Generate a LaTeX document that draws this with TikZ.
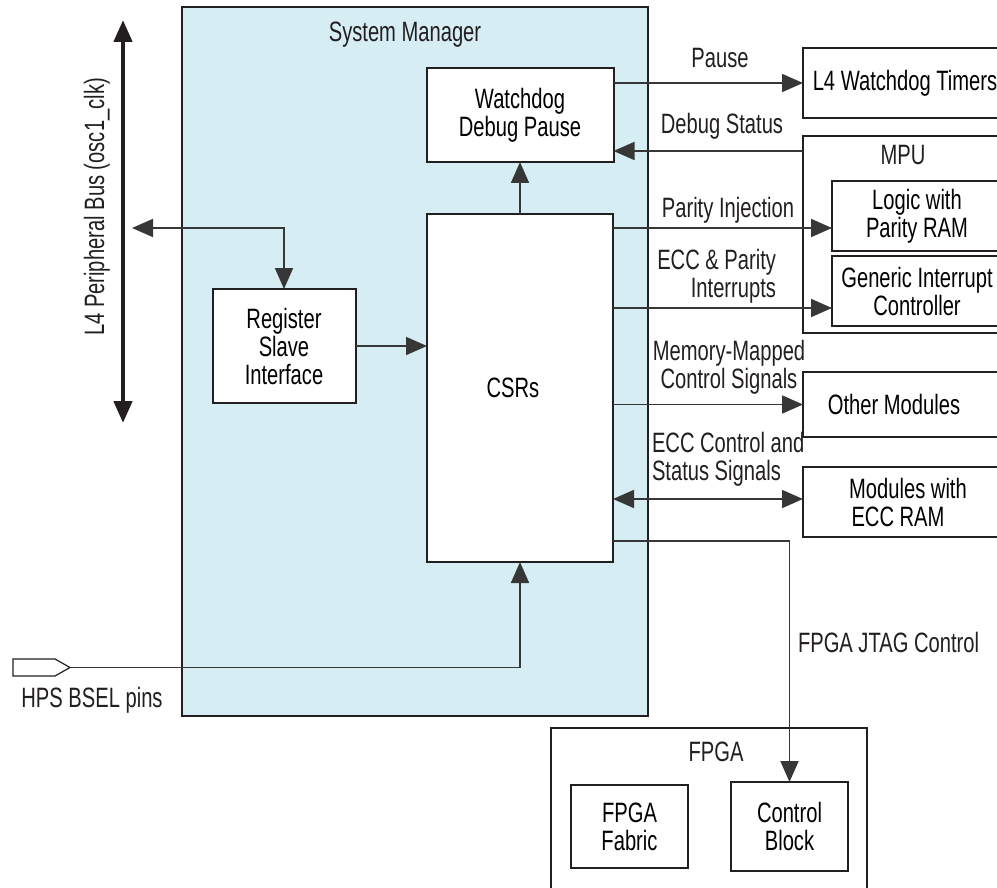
\documentclass[tikz,border=0pt]{standalone}
\usepackage{fontspec}
\setmainfont{Liberation Sans}[FakeStretch=0.72]
\usetikzlibrary{arrows.meta,calc}
\definecolor{smfill}{RGB}{214,237,244}
\definecolor{ink}{RGB}{35,31,32}
\definecolor{wire}{RGB}{55,55,55}
\begin{document}
\begin{tikzpicture}[x=1pt,y=-1pt,
  font=\fontsize{28}{28}\selectfont,
  box/.style={draw=ink, line width=2pt, fill=white, inner sep=0pt, outer sep=0pt, align=center},
  lbl/.style={inner sep=0pt, outer sep=0pt, align=center, text=ink},
  conn/.style={draw=wire, line width=1.8pt, -{Triangle[length=21pt,width=18pt]}},
  dconn/.style={draw=wire, line width=1.8pt, {Triangle[length=21pt,width=18pt]}-{Triangle[length=21pt,width=18pt]}},
  busline/.style={draw=ink, line width=4.5pt, {Triangle[length=22pt,width=18pt]}-{Triangle[length=22pt,width=18pt]}},
  pinst/.style={draw=ink, line width=1.2pt, fill=white}]
\clip (0,0) rectangle (997,888);
\fill[white] (0,0) rectangle (997,888);

% main blocks
\node[box, fill=smfill, minimum width=466pt, minimum height=709pt] (sm) at (415,361.5) {};
\node[lbl] (smt) at (405,35) {System Manager};
\node[box, minimum width=187pt, minimum height=94pt] (wdp) at (520,115) {Watchdog\\Debug Pause};
\node[box, minimum width=186pt, minimum height=348pt] (csr) at (520,388) {CSRs\hspace*{14pt}};
\node[box, minimum width=143pt, minimum height=114pt] (reg) at (284,346) {Register\\Slave\\Interface};

% right side blocks
\node[box, minimum width=204pt, minimum height=70pt] (l4wd) at (905,83) {L4 Watchdog Timers};
\node[box, minimum width=204pt, minimum height=197pt] (mpu) at (905,234.5) {};
\node[lbl] (mput) at (903,155) {MPU};
\node[box, minimum width=170pt, minimum height=70pt] (logic) at (917,216) {Logic with\\Parity RAM};
\node[box, minimum width=170pt, minimum height=70pt] (gic) at (917,291) {Generic Interrupt\\Controller};
\node[box, minimum width=204pt, minimum height=65pt] (oth) at (905,404.5) {Other Modules\hspace*{22pt}};
\node[box, minimum width=204pt, minimum height=70pt] (mecc) at (905,502) {\hspace*{6pt}Modules with\\ECC RAM\hspace*{14pt}};

% FPGA
\node[box, minimum width=316pt, minimum height=200pt] (fpga) at (709,828) {};
\node[lbl] (fpgat) at (716,752) {FPGA};
\node[box, minimum width=117pt, minimum height=83pt] (fab) at (629.5,826.5) {FPGA\\Fabric};
\node[box, minimum width=117pt, minimum height=89pt] (ctrl) at (789.5,826.5) {Control\\Block};

% bus
\coordinate (busT) at (123,20);
\coordinate (busB) at (123,423);
\draw[busline] (busT) -- (busB);
\node[lbl, rotate=90] (busl) at (97,207) {L4 Peripheral Bus (osc1\_clk)};
\coordinate (busJ) at (132,228);
\draw[dconn] (busJ) -| (reg.north);

% pin
\draw[pinst] (13,659) -- (55,659) -- (70,667.5) -- (55,676) -- (13,676) -- cycle;
\coordinate (pin) at (70,667.5);
\node[lbl] (lBS) at (92,700) {HPS BSEL pins};
\draw[conn] (pin) -| (csr.south);

% y-levels
\coordinate (yDbg) at (0,151);
\coordinate (yPI) at (0,228);
\coordinate (yEI) at (0,308);
\coordinate (yEC) at (0,499);
\coordinate (yJ) at (0,541);

% connectors
\draw[conn] (reg.east) -- (csr.west |- reg.east);
\draw[conn] (csr.north) -- (wdp.south);
\draw[conn] (wdp.east |- l4wd.west) -- (l4wd.west);
\draw[conn] (mpu.west |- yDbg) -- (wdp.east |- yDbg);
\draw[conn] (csr.east |- yPI) -- (logic.west |- yPI);
\draw[conn] (csr.east |- yEI) -- (gic.west |- yEI);
\draw[conn] (csr.east |- oth.west) -- (oth.west);
\draw[dconn] (csr.east |- yEC) -- (mecc.west |- yEC);
\draw[conn] (csr.east |- yJ) -| (ctrl.north);

% labels
\node[lbl] (lPause) at (720,58) {Pause};
\node[lbl] (lDbg) at (722,126) {Debug Status};
\node[lbl] (lPI) at (728,210) {Parity Injection};
\node[lbl, align=right, anchor=east] (lEI) at (776,276) {ECC \& Parity\\Interrupts};
\node[lbl] (lMM) at (729,367) {Memory-Mapped\\Control Signals};
\node[lbl, align=left, anchor=west] (lEC) at (652,459) {ECC Control and\\Status Signals};
\node[lbl, anchor=west] (lJ) at (798,642) {FPGA JTAG Control};
\end{tikzpicture}
\end{document}
